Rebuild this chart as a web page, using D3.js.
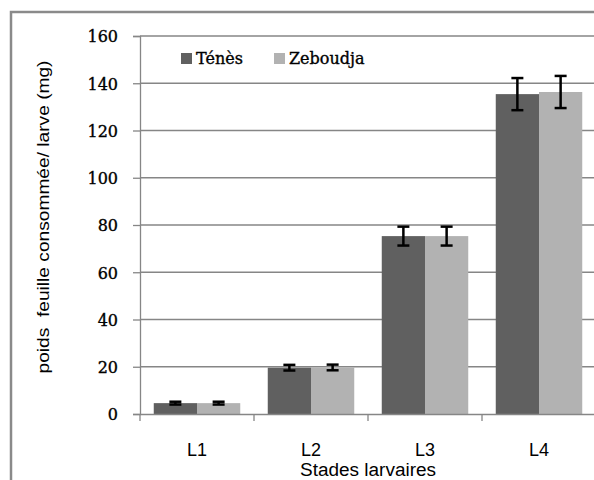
<!DOCTYPE html>
<html><head><meta charset="utf-8">
<script src="https://cdn.jsdelivr.net/npm/d3@7"></script>
<style>body{margin:0;background:#fff}svg{display:block}</style>
</head><body>
<script>
const categories = ["L1","L2","L3","L4"];
const seriesNames = ["Ténès","Zeboudja"];
const tenesValues = [4.6, 19.6, 75.3, 135.4];
const tenesErrors = [0.6, 1.2, 4.0, 6.8];
const zeboudjaValues = [4.6, 19.7, 75.3, 136.3];
const zeboudjaErrors = [0.6, 1.2, 4.0, 6.8];
const yTicks = [0,20,40,60,80,100,120,140,160];
const colors = ["#606060","#b2b2b2"];

const W=594,H=480;
const svg=d3.select("body").append("svg").attr("width",W).attr("height",H);
// outer frame
svg.append("rect").attr("x",11).attr("y",12).attr("width",W+20).attr("height",H+20)
  .attr("fill","none").attr("stroke","#8a8a8a").attr("stroke-width",2.5);

const pL=140,pR=596,pT=36,pB=414;
const x=d3.scaleBand().domain(categories).range([pL,pR]).paddingInner(0).paddingOuter(0);
const y=d3.scaleLinear().domain([0,160]).range([pB,pT]);
const xs=d3.scaleBand().domain(seriesNames).range([0,x.bandwidth()]).paddingInner(0).paddingOuter(14/44);

// gridlines
svg.append("g").selectAll("line").data(yTicks.filter(d=>d>0)).join("line")
  .attr("x1",pL).attr("x2",pR).attr("y1",d=>y(d)).attr("y2",d=>y(d))
  .attr("stroke","#868686").attr("stroke-width",1.3);

// y axis
const yAxis=svg.append("g").attr("transform",`translate(${pL},0)`)
  .call(d3.axisLeft(y).tickValues(yTicks).tickSize(7).tickPadding(15).tickFormat(d3.format("d")));
yAxis.select(".domain").attr("stroke","#868686").attr("stroke-width",1.3);
yAxis.selectAll(".tick line").attr("stroke","#868686").attr("stroke-width",1.3);
yAxis.selectAll("text").attr("font-family","DejaVu Serif").attr("font-size",16).attr("fill","#000")
  .attr("stroke","#000").attr("stroke-width",0.35).attr("dy","0.36em");

// bars
const data=categories.map((c,i)=>({c,vals:[{s:seriesNames[0],v:tenesValues[i],e:tenesErrors[i]},{s:seriesNames[1],v:zeboudjaValues[i],e:zeboudjaErrors[i]}]}));
const g=svg.append("g").selectAll("g").data(data).join("g").attr("transform",d=>`translate(${x(d.c)},0)`);
g.selectAll("rect").data(d=>d.vals).join("rect")
  .attr("x",d=>xs(d.s)).attr("width",xs.bandwidth())
  .attr("y",d=>y(d.v)).attr("height",d=>y(0)-y(d.v))
  .attr("fill",(d,i)=>colors[i]);
// error bars
const eb=g.selectAll("g.err").data(d=>d.vals).join("g").attr("class","err");
eb.append("line").attr("x1",d=>xs(d.s)+xs.bandwidth()/2).attr("x2",d=>xs(d.s)+xs.bandwidth()/2)
  .attr("y1",d=>y(d.v+d.e)).attr("y2",d=>y(d.v-d.e)).attr("stroke","#000").attr("stroke-width",2.5);
eb.selectAll("line.cap").data(d=>[{d,val:d.v+d.e},{d,val:d.v-d.e}]).join("line").attr("class","cap")
  .attr("x1",p=>xs(p.d.s)+xs.bandwidth()/2-6).attr("x2",p=>xs(p.d.s)+xs.bandwidth()/2+6)
  .attr("y1",p=>y(p.val)).attr("y2",p=>y(p.val)).attr("stroke","#000").attr("stroke-width",2.5);

// x axis
const xAxis=svg.append("g").attr("transform",`translate(0,${pB})`)
  .call(d3.axisBottom(x).tickSize(0).tickPadding(29));
xAxis.select(".domain").attr("stroke","#868686").attr("stroke-width",1.3);
xAxis.selectAll("text").attr("font-family","Liberation Sans").attr("font-size",18).attr("fill","#000");
svg.append("g").selectAll("line").data(categories.concat(["end"])).join("line")
  .attr("x1",(d,i)=>pL+i*x.bandwidth()).attr("x2",(d,i)=>pL+i*x.bandwidth())
  .attr("y1",pB).attr("y2",pB+7).attr("stroke","#868686").attr("stroke-width",1.3);

// axis titles
svg.append("text").attr("x",368).attr("y",476).attr("text-anchor","middle")
  .attr("font-family","Liberation Sans").attr("font-size",18).attr("textLength",136).attr("lengthAdjust","spacingAndGlyphs")
  .text("Stades larvaires");
svg.append("text").attr("transform","translate(49,217) rotate(-90)").attr("text-anchor","middle")
  .attr("font-family","Liberation Sans").attr("font-size",16).attr("textLength",313).attr("lengthAdjust","spacingAndGlyphs")
  .style("white-space","pre").text("poids  feuille consommée/ larve (mg)");

// legend
const lg=svg.append("g").selectAll("g").data(seriesNames).join("g")
  .attr("transform",(d,i)=>`translate(${i===0?181:274},53)`);
lg.append("rect").attr("width",11).attr("height",11).attr("fill",(d,i)=>colors[i]);
lg.append("text").attr("x",15).attr("y",11).attr("font-family","DejaVu Serif").attr("font-size",16)
  .attr("stroke","#000").attr("stroke-width",0.35).text(d=>d);
</script>
</body></html>
